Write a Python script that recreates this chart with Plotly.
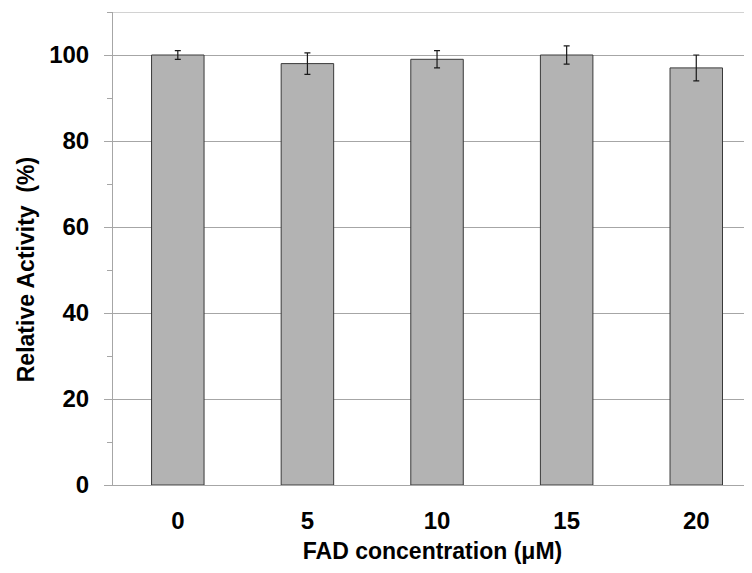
import plotly.graph_objects as go

categories = ["0", "5", "10", "15", "20"]
activity = [100, 98, 99, 100, 97]
errors = [1.0, 2.5, 2.0, 2.1, 3.0]
y_ticks = [0, 20, 40, 60, 80, 100]

FONT = "Liberation Sans"
GRID = "#a6a6a6"

fig = go.Figure()
fig.add_trace(go.Bar(
    x=list(range(len(categories))),
    y=activity,
    width=0.405,
    marker=dict(color="#b3b3b3", line=dict(color="#3a3a3a", width=1)),
    error_y=dict(type="data", array=errors, visible=True, color="#1a1a1a", thickness=1.2, width=3),
))

fig.update_layout(
    width=752, height=573,
    margin=dict(l=105, r=8, t=4, b=96),
    paper_bgcolor="white", plot_bgcolor="white",
    showlegend=False,
    font=dict(family=FONT, color="#000000"),
    xaxis=dict(
        range=[-0.5, 4.43],
        tickmode="array", tickvals=list(range(len(categories))), ticktext=categories,
        tickfont=dict(size=24, family=FONT, weight="bold"),
        showgrid=False, zeroline=False,
        showline=True, linecolor=GRID, linewidth=1,
        ticks="", ticklabelstandoff=14,
        title=dict(text="FAD concentration (μM)", font=dict(size=23, family=FONT, weight="bold"), standoff=10),
    ),
    yaxis=dict(
        range=[0, 110],
        tickmode="array", tickvals=y_ticks,
        tickfont=dict(size=24, family=FONT, weight="bold"),
        showgrid=True, gridcolor=GRID, gridwidth=1,
        zeroline=False,
        showline=True, linecolor=GRID, linewidth=1,
        ticks="outside", ticklen=8, tickcolor=GRID, tickwidth=1,
        ticklabelstandoff=10,
        minor=dict(dtick=10, tick0=0, ticks="outside", ticklen=5, tickcolor=GRID, showgrid=False),
    ),
)

fig.add_annotation(
    text="Relative Activity  (%)", textangle=-90,
    xref="paper", yref="paper", x=-0.137, y=0.455,
    xanchor="center", yanchor="middle", showarrow=False,
    font=dict(size=23, family=FONT, weight="bold", color="#000000"),
)

fig.add_shape(type="line", xref="paper", yref="y", x0=-0.006, x1=1, y0=110, y1=110,
              line=dict(color=GRID, width=1))

fig.write_html("out.html")
